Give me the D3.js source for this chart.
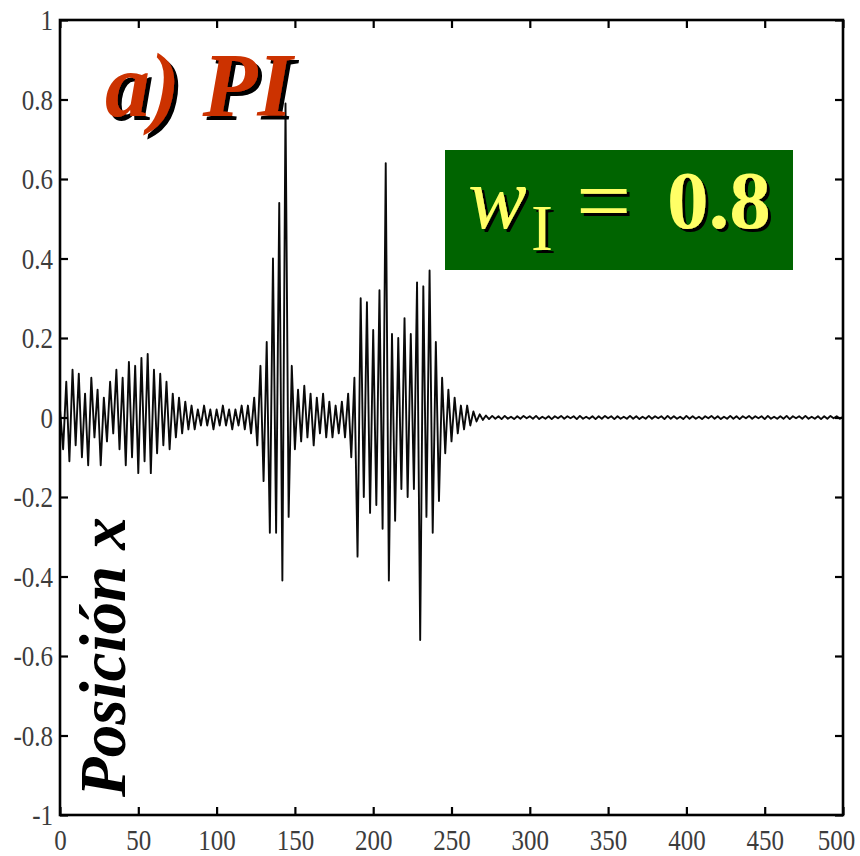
<!DOCTYPE html>
<html>
<head>
<meta charset="utf-8">
<script src="https://cdn.jsdelivr.net/npm/d3@7"></script>
<style>
  body { margin: 0; background: #fff; }
  svg { display: block; }
</style>
</head>
<body>
<svg class="grafico"></svg>
<script>
// senal muestreada cada 2 unidades, de 0 a 500
var paso = 2;
var senal = [
  0.02,-0.08,0.09,-0.11,0.12,-0.07,0.11,-0.10,0.06,-0.12,
  0.10,-0.05,0.07,-0.12,0.05,-0.06,0.09,-0.04,0.12,-0.08,
  0.10,-0.12,0.14,-0.10,0.13,-0.14,0.15,-0.11,0.16,-0.14,
  0.12,-0.09,0.11,-0.07,0.09,-0.08,0.06,-0.05,0.05,-0.04,
  0.04,-0.03,0.03,-0.03,0.02,-0.02,0.03,-0.02,0.02,-0.03,
  0.02,-0.02,0.03,-0.02,0.02,-0.03,0.02,-0.02,0.03,-0.03,
  0.03,-0.04,0.05,-0.07,0.13,-0.16,0.19,-0.29,0.40,-0.29,
  0.54,-0.41,0.79,-0.25,0.13,-0.08,0.07,-0.06,0.08,-0.05,
  0.06,-0.07,0.05,-0.04,0.06,-0.05,0.04,-0.05,0.03,-0.04,
  0.04,-0.05,0.06,-0.10,0.10,-0.35,0.30,-0.20,0.29,-0.24,
  0.22,-0.22,0.32,-0.28,0.64,-0.41,0.21,-0.26,0.20,-0.18,
  0.25,-0.20,0.21,-0.18,0.34,-0.56,0.33,-0.25,0.37,-0.29,
  0.19,-0.21,0.10,-0.09,0.07,-0.06,0.05,-0.04,0.03,-0.03,
  0.03,-0.02,0.015,-0.01,0.008,-0.006,0.005,-0.004,0.004,-0.003,
  0.003,-0.004,0.004,-0.003,0.002,-0.004,0.003,-0.003,0.004,-0.002,
  0.003,-0.003,0.004,-0.004,0.002,-0.003,0.003,-0.004,0.003,-0.002,
  0.004,-0.003,0.003,-0.002,0.003,-0.004,0.004,-0.003,0.002,-0.003,
  0.003,-0.004,0.003,-0.003,0.004,-0.002,0.003,-0.004,0.003,-0.003,
  0.002,-0.003,0.004,-0.003,0.003,-0.004,0.002,-0.003,0.004,-0.003,
  0.003,-0.002,0.003,-0.004,0.004,-0.003,0.003,-0.003,0.002,-0.004,
  0.004,-0.003,0.003,-0.003,0.002,-0.004,0.003,-0.002,0.004,-0.003,
  0.003,-0.004,0.002,-0.003,0.004,-0.003,0.003,-0.004,0.003,-0.002,
  0.004,-0.003,0.003,-0.002,0.003,-0.004,0.004,-0.003,0.002,-0.003,
  0.003,-0.003,0.004,-0.004,0.003,-0.002,0.003,-0.003,0.004,-0.003,
  0.002,-0.003,0.003,-0.004,0.003,-0.003,0.004,-0.002,0.003,-0.003,
  0.002
];

var xTicks = [0, 50, 100, 150, 200, 250, 300, 350, 400, 450, 500];
var yTicks = [-1, -0.8, -0.6, -0.4, -0.2, 0, 0.2, 0.4, 0.6, 0.8, 1];

var titulo = "a) PI";
var etiquetaY = "Posición x";
var etiquetaW = { base: "w", sub: "I", igual: "=", valor: "0.8" };

var w = 860, h = 856;
var izq = 60, der = 843, arriba = 20, abajo = 815;
var estira = 1.2; // digitos altos y estrechos como en matlab

var svg = d3.select(".grafico").attr("width", w).attr("height", h);

// sombra negra sin desenfoque
function sombra(id, d) {
  svg.append("defs").append("filter")
    .attr("id", id)
    .attr("x", "-10%").attr("y", "-10%")
    .attr("width", "130%").attr("height", "130%")
    .append("feDropShadow")
    .attr("dx", d).attr("dy", d)
    .attr("stdDeviation", 0)
    .attr("flood-color", "#000")
    .attr("flood-opacity", 1);
}
sombra("sombraTitulo", 4);
sombra("sombraCaja", 3);

var x = d3.scaleLinear().domain([0, 500]).range([izq, der]);
var y = d3.scaleLinear().domain([-1, 1]).range([abajo, arriba]);

var puntos = senal.map(function(v, i) {
  return { x: i * paso, y: v };
});

// curva
var linea = d3.line()
  .x(function(d) { return x(d.x); })
  .y(function(d) { return y(d.y); });

svg.append("path")
  .datum(puntos)
  .attr("fill", "none")
  .attr("stroke", "#0a0a0a")
  .attr("stroke-width", 1.9)
  .attr("stroke-linejoin", "round")
  .attr("d", linea);

// ejes estilo matlab, ticks hacia dentro
function formato(d) {
  return String(+d.toFixed(1));
}

function estiloEje(g) {
  g.select(".domain").remove();
  g.selectAll(".tick line").attr("stroke", "#000").attr("stroke-width", 2.2);
  g.selectAll(".tick text")
    .attr("fill", "#3c3c3c")
    .style("font-family", "'Liberation Serif', serif")
    .style("font-size", "25px");
}

svg.append("g")
  .attr("transform", "translate(0," + abajo + ")")
  .call(d3.axisBottom(x).tickValues(xTicks).tickSize(-8).tickFormat(formato))
  .call(estiloEje)
  .selectAll(".tick text")
  .attr("y", 35 / estira)
  .attr("dy", 0)
  .attr("x", function(d) { return d === 500 ? -7 : 0; }) // el ultimo no cabe centrado
  .attr("transform", "scale(1," + estira + ")");

svg.append("g")
  .attr("transform", "translate(0," + arriba + ")")
  .call(d3.axisTop(x).tickValues(xTicks).tickSize(-8).tickFormat(""))
  .call(estiloEje);

svg.append("g")
  .attr("transform", "translate(" + izq + ",0)")
  .call(d3.axisLeft(y).tickValues(yTicks).tickSize(-8).tickPadding(7).tickFormat(formato))
  .call(estiloEje)
  .selectAll(".tick text")
  .attr("dy", "0.33em")
  .attr("transform", "scale(1," + estira + ")");

svg.append("g")
  .attr("transform", "translate(" + der + ",0)")
  .call(d3.axisRight(y).tickValues(yTicks).tickSize(-8).tickFormat(""))
  .call(estiloEje);

svg.append("rect")
  .attr("x", izq)
  .attr("y", arriba)
  .attr("width", der - izq)
  .attr("height", abajo - arriba)
  .attr("fill", "none")
  .attr("stroke", "#000")
  .attr("stroke-width", 2.6);

// titulo con sombra
svg.append("text")
  .attr("x", 105)
  .attr("y", 116)
  .attr("fill", "#cc3300")
  .attr("filter", "url(#sombraTitulo)")
  .style("font-family", "'Liberation Serif', serif")
  .style("font-weight", "bold")
  .style("font-style", "italic")
  .style("font-size", "90px")
  .text(titulo);

// etiqueta vertical
svg.append("text")
  .attr("transform", "translate(125,797) rotate(-90)")
  .attr("fill", "#000")
  .style("font-family", "'Liberation Serif', serif")
  .style("font-weight", "bold")
  .style("font-style", "italic")
  .style("font-size", "65px")
  .text(etiquetaY);

// caja verde
svg.append("rect")
  .attr("x", 445)
  .attr("y", 150)
  .attr("width", 348)
  .attr("height", 120)
  .attr("fill", "#006400");

var t = svg.append("text")
  .attr("fill", "#ffff66")
  .attr("filter", "url(#sombraCaja)")
  .style("font-family", "'Liberation Serif', serif");
t.append("tspan")
  .attr("x", 468)
  .attr("y", 228)
  .style("font-style", "italic")
  .style("font-size", "88px")
  .text(etiquetaW.base);
t.append("tspan")
  .attr("x", 531)
  .attr("y", 250)
  .style("font-size", "66px")
  .text(etiquetaW.sub);
t.append("tspan")
  .attr("x", 576)
  .attr("y", 233)
  .style("font-size", "98px")
  .text(etiquetaW.igual);
t.append("tspan")
  .attr("x", 667)
  .attr("y", 228)
  .style("font-weight", "bold")
  .style("font-size", "83px")
  .text(etiquetaW.valor);
</script>
</body>
</html>
